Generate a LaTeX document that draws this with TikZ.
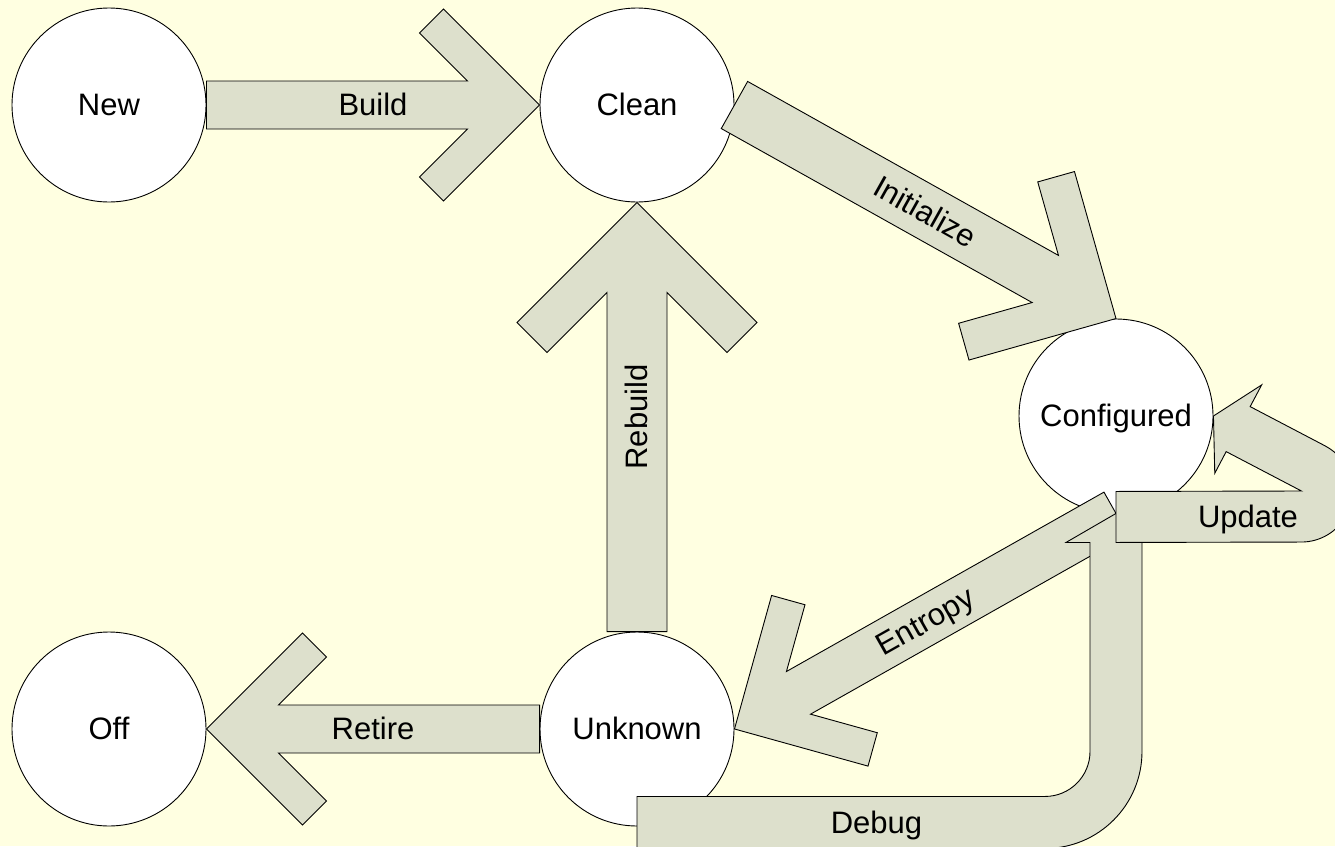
\documentclass[tikz,border=0pt]{standalone}
\usepackage{fontspec}
\setmainfont{Liberation Sans}
\usetikzlibrary{calc}
\definecolor{bgcol}{HTML}{FFFFE1}
\definecolor{arrowcol}{HTML}{DDE0CC}
\newcommand\statefont{\fontsize{31}{37}\selectfont}
\tikzset{
 state/.style={circle, draw=black, line width=0.9pt, fill=white, minimum size=194pt, inner sep=0pt, font=\statefont, text height=28pt, text depth=6.6pt},
 arrowbody/.style={draw=black, line width=0.9pt, fill=arrowcol, line join=miter},
 lbl/.style={font=\statefont, inner sep=0pt, text height=28pt, text depth=6.6pt},
}
% chevron block arrow: #1 from, #2 to, #3 half width, #4 label
\newcommand\chevarrow[4]{%
  \path let \p1=(#1), \p2=(#2) in \pgfextra{%
    \pgfmathsetmacro\tmpang{atan2((\y2)-(\y1),(\x2)-(\x1))}%
    \pgfmathsetmacro\tmplen{veclen((\x2)-(\x1),(\y2)-(\y1))}%
    \pgfmathsetmacro\tmprot{\tmpang>91 ? \tmpang-180 : (\tmpang<-89 ? \tmpang+180 : \tmpang)}%
    \xdef\chevang{\tmpang}\xdef\chevlen{\tmplen}\xdef\chevrot{\tmprot}};
  \begin{scope}[shift={(#1)}, rotate=\chevang]
    \def\chw{#3}%
    \draw[arrowbody] (0,\chw) -- ({\chevlen-3*\chw},\chw) -- ({\chevlen-5*\chw},{3*\chw})
      -- ({\chevlen-4*\chw},{4*\chw}) -- (\chevlen,0) -- ({\chevlen-4*\chw},{-4*\chw})
      -- ({\chevlen-5*\chw},{-3*\chw}) -- ({\chevlen-3*\chw},-\chw) -- (0,-\chw) -- cycle;
  \end{scope}
  \node[lbl, rotate=\chevrot] at ($(#1)!0.5!(#2)$) {#4};
}
\begin{document}
\begin{tikzpicture}[x=1pt,y=-1pt]
\fill[bgcol] (0,0) rectangle (1335,846);
\useasboundingbox (0,0) rectangle (1335,846);
\clip (0,0) rectangle (1335,846);

\node[state] (New) at (109,105) {New};
\node[state] (Clean) at (637,105) {Clean};
\node[state] (Configured) at (1116,416) {Configured};
\node[state] (Unknown) at (637,729) {Unknown};
\node[state] (Off) at (109,729) {Off};

\chevarrow{New.east}{Clean.west}{24}{Build}
\chevarrow{Clean.east}{Configured.north}{27}{Initialize}
\chevarrow{Unknown.north}{Clean.south}{30}{Rebuild}
\chevarrow{Unknown.west}{Off.east}{24}{Retire}
\chevarrow{Configured.south}{Unknown.east}{24.5}{Entropy}

% Debug: Unknown -> Configured
\coordinate (dbS) at ($(Unknown.south)+(0,-4)$);
\coordinate (dbK) at (Configured.south |- dbS);
\draw[arrowbody] ($(dbS)+(0,-26)$) -- ($(dbK)+(-71,-26)$)
  arc[start angle=-90, end angle=0, radius=45pt]
  -- ($(Configured.south)+(-26,29)$) -- ($(Configured.south)+(-50,29)$)
  -- (Configured.south) -- ($(Configured.south)+(50,29)$)
  -- ($(Configured.south)+(26,29)$) -- ($(dbK)+(26,-71)$)
  arc[start angle=0, end angle=-90, radius=97pt]
  -- ($(dbS)+(0,26)$) -- cycle;
\node[lbl] at ($(dbS)!0.5!(dbK)$) {Debug};

% Update: Configured -> Configured
\draw[arrowbody] ($(Configured.south)+(0,-22)$) -- ($(Configured.east)+(88,75)$)
  -- ($(Configured.east)+(12.7,35.6)$) -- ($(Configured.east)+(1.3,57.3)$)
  -- (Configured.east) -- ($(Configured.east)+(48.2,-31.1)$)
  -- ($(Configured.east)+(36.7,-9.4)$) -- ($(Configured.east)+(111.9,30)$)
  arc[start angle=62, end angle=-90, radius=51pt]
  -- ($(Configured.south)+(0,29)$) -- cycle;
\node[lbl] at ($(Configured.south)+(132,3)$) {Update};
\end{tikzpicture}
\end{document}
